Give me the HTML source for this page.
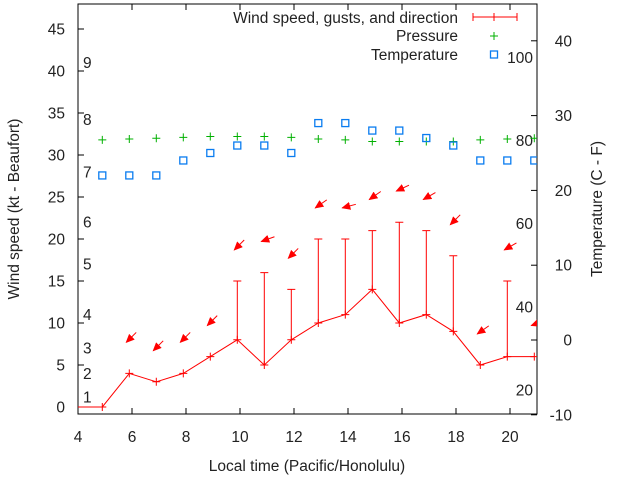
<!DOCTYPE html>
<html><head><meta charset="utf-8"><style>
body{margin:0;background:#fff}
svg{display:block;font-family:"Liberation Sans",sans-serif;font-size:15.5px}
</style></head><body>
<svg id="chart" width="640" height="480" viewBox="0 0 640 480" xmlns="http://www.w3.org/2000/svg">
<g id="g"></g>
</svg>
<script>
const hours=[3.9,4.9,5.9,6.9,7.9,8.9,9.9,10.9,11.9,12.9,13.9,14.9,15.9,16.9,17.9,18.9,19.9,20.9];
const speed=[0,0,4,3,4,6,8,5,8,10,11,14,10,11,9,5,6,6];
const gusts=[null,null,null,null,null,null,15,16,14,20,20,21,22,21,18,null,15,null];
const dirs=[null,null,45,45,45,45,45,70,45,55,75,55,65,60,45,55,60,70];
const pressure=[null,31.8,31.9,32.0,32.1,32.2,32.2,32.2,32.1,31.9,31.8,31.6,31.6,31.6,31.6,31.8,31.9,32.0];
const temps=[null,22,22,22,24,25,26,26,25,29,29,28,28,27,26,24,24,24];
const xTicks=[4,6,8,10,12,14,16,18,20];
const yTicks=[0,5,10,15,20,25,30,35,40,45];
const y2Ticks=[-10,0,10,20,30,40];
const beaufortLabels=["1","2","3","4","5","6","7","8","9"];
const beaufortMid=[1.2,4,7,11,17,22,28,34.2,41];
const fLabels=[20,40,60,80,100];

const L=78,R=537,T=4,B=414;
const X=v=>L+(v-4)*(R-L)/17;
const Y=v=>407-v*8.4;
const Y2=v=>340-v*7.48;
const g=document.getElementById('g');
const NS='http://www.w3.org/2000/svg';
const TC='#222';
function mk(tag,attrs,text){const e=document.createElementNS(NS,tag);for(const k in attrs)e.setAttribute(k,attrs[k]);if(text!=null)e.textContent=text;g.appendChild(e);return e;}

let e=mk('rect',{x:L,y:T,width:R-L,height:B-T,fill:'none',stroke:'#000','stroke-width':1});


xTicks.forEach(t=>{
  e=mk('path',{d:`M${X(t)} ${B}v-6M${X(t)} ${T}v6`,stroke:'#000'});
  
  
  e=mk('text',{x:X(t),y:B+28,'text-anchor':'middle',fill:TC},t);
  
  
});
yTicks.forEach(t=>{
  e=mk('path',{d:`M${L} ${Y(t)}h6`,stroke:'#000'});
  
  
  e=mk('text',{x:L-13,y:Y(t)+5.5,'text-anchor':'end',fill:TC},t);
  
  
});
y2Ticks.forEach(t=>{
  e=mk('path',{d:`M${R} ${Y2(t)}h-6`,stroke:'#000'});
  
  
  e=mk('text',{x:572,y:Y2(t)+5.5,'text-anchor':'end',fill:TC},t);
  
  
});
beaufortLabels.forEach((b,i)=>{
  e=mk('text',{x:83,y:Y(beaufortMid[i])+5.5,fill:TC},b);
  
  
});
fLabels.forEach(f=>{
  e=mk('text',{x:533,y:Y2((f-32)*5/9)+5.5,'text-anchor':'end',fill:TC},f);
  
  
});
e=mk('text',{x:0,y:0,'text-anchor':'middle',transform:`translate(19,209) rotate(-90)`,fill:TC},'Wind speed (kt - Beaufort)');


e=mk('text',{x:0,y:0,'text-anchor':'middle',transform:`translate(602,209) rotate(-90)`,fill:TC},'Temperature (C - F)');


e=mk('text',{x:307,y:471,'text-anchor':'middle',fill:TC},'Local time (Pacific/Honolulu)');



const defs=document.createElementNS(NS,'defs');
defs.innerHTML=`<clipPath id="cp"><rect x="${L}" y="${T}" width="${R-L}" height="${B-T}"/></clipPath><marker id="ah" markerUnits="userSpaceOnUse" markerWidth="9" markerHeight="8" refX="8" refY="4" orient="auto"><path d="M0 0L9 4L0 8z" fill="red"/></marker>`;
document.getElementById('chart').prepend(defs);
const sub=document.createElementNS(NS,'g');sub.setAttribute('clip-path','url(#cp)');
document.getElementById('chart').appendChild(sub);
function mc(tag,attrs){const el=document.createElementNS(NS,tag);for(const k in attrs)el.setAttribute(k,attrs[k]);sub.appendChild(el);return el;}

let pts=hours.map((h,i)=>`${X(h)},${Y(speed[i])}`).join(' ');
e=mc('polyline',{points:pts,fill:'none',stroke:'red','stroke-width':1});


hours.forEach((h,i)=>{
  const x=X(h),y=Y(speed[i]);
  e=mc('path',{d:`M${x-4} ${y}h8M${x} ${y-4}v8`,stroke:'red'});
  
  
  if(gusts[i]!=null){
    const gy=Y(gusts[i]);
    e=mc('path',{d:`M${x} ${y}V${gy}M${x-4} ${gy}h8`,stroke:'red'});
    
    
  }
  if(dirs[i]!=null){
    const top=Math.max(speed[i],gusts[i]||0)+3.7;
    const hx=x-3,hy=Y(top);
    const a=dirs[i]*Math.PI/180,len=14;
    const tx=hx+len*Math.sin(a),ty=hy-len*Math.cos(a);
    e=mc('line',{x1:tx,y1:ty,x2:hx,y2:hy,stroke:'red','marker-end':'url(#ah)'});
    
    
  }
});
hours.forEach((h,i)=>{
  if(pressure[i]!=null){
    const x=X(h),y=Y(pressure[i]);
    e=mc('path',{d:`M${x-4} ${y}h8M${x} ${y-4}v8`,stroke:'#00b000'});
    
    
  }
  if(temps[i]!=null){
    const x=X(h),y=Y2(temps[i]);
    e=mc('rect',{x:x-3.5,y:y-3.5,width:7,height:7,fill:'none',stroke:'#0a7cf0','stroke-width':1.3});
    
    
  }
});

e=mk('text',{x:458,y:23,'text-anchor':'end',fill:TC},'Wind speed, gusts, and direction');


e=mk('path',{d:'M473 17h44M473 13v8M517 13v8M494 13v8',stroke:'red'});


e=mk('text',{x:458,y:41,'text-anchor':'end',fill:TC},'Pressure');


e=mk('path',{d:'M490 36h8M494 32v8',stroke:'#00b000'});


e=mk('text',{x:458,y:60,'text-anchor':'end',fill:TC},'Temperature');


e=mk('rect',{x:490.5,y:51,width:7,height:7,fill:'none',stroke:'#0a7cf0','stroke-width':1.3});


</script>
</body></html>
